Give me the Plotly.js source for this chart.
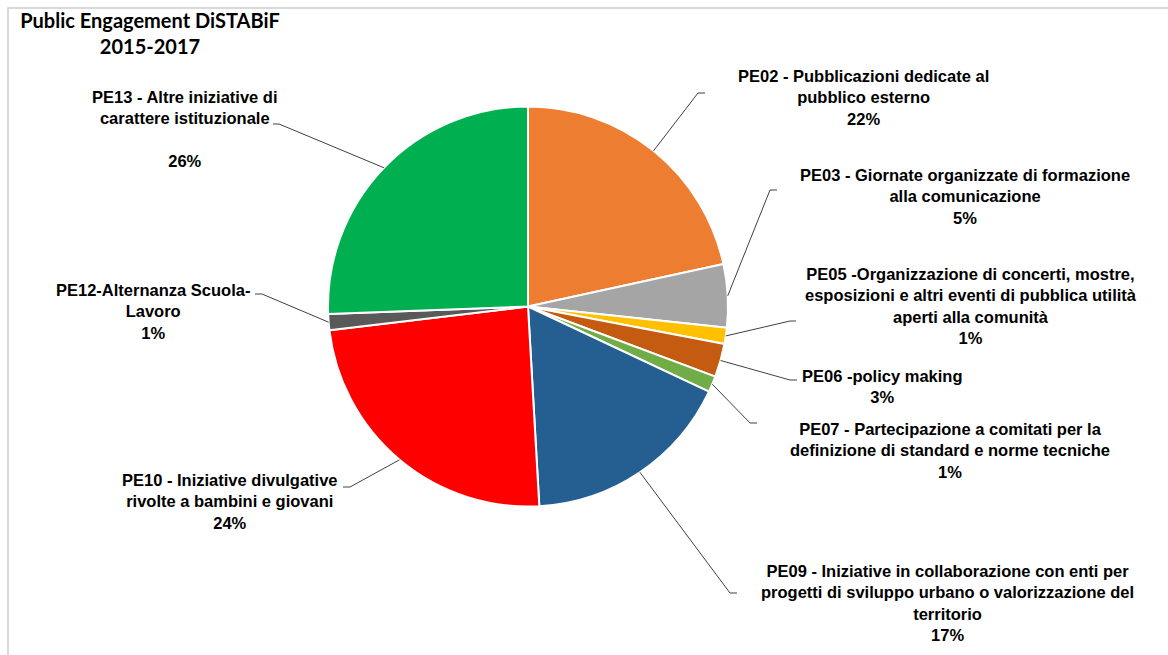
<!DOCTYPE html>
<html><head><meta charset="utf-8">
<script src="https://cdn.plot.ly/plotly-3.0.1.min.js"></script>
<style>html,body{margin:0;padding:0;background:#fff}#chart{width:1168px;height:655px}</style>
</head><body><div id="chart"></div>
<script>
// ---- data ----
const categories = ['PE02','PE03','PE05','PE06','PE07','PE09','PE10','PE12','PE13'];
const shares = [21.6, 5.1, 1.3, 2.7, 1.3, 17.1, 24.0, 1.3, 25.6];
const labelTexts = [
  'PE02 - Pubblicazioni dedicate al<br>pubblico esterno',
  'PE03 - Giornate organizzate di formazione<br>alla comunicazione',
  'PE05 -Organizzazione di concerti, mostre,<br>esposizioni e altri eventi di pubblica utilità<br>aperti alla comunità',
  'PE06 -policy making',
  'PE07 - Partecipazione a comitati per la<br>definizione di standard e norme tecniche',
  'PE09 - Iniziative in collaborazione con enti per<br>progetti di sviluppo urbano o valorizzazione del<br>territorio',
  'PE10 - Iniziative divulgative<br>rivolte a bambini e giovani',
  'PE12-Alternanza Scuola-<br>Lavoro',
  'PE13 - Altre iniziative di<br>carattere istituzionale<br>'
];
const colors = ['#ED7D31','#A5A5A5','#FFC000','#C55A11','#70AD47','#255E91','#FF0000','#595959','#00B050'];

// ---- layout helpers ----
const W = 1168, H = 655;
const dom = {x:[328/W, 728/W], y:[1-506.5/H, 1-106.5/H]};
const labelPos = [[863,97],[965,196],[971,306],[882,386],[950,450],[947,603],[230,501],[153,311],[185,129]];
const elbows   = [[698,93],[770,190],[790,321],[790,380],[750,423],[730,593],[350,487],[262,294],[279,124]];
const tickEnds = [[705,93],[777,190],[796,321],[797,380],[757,423],[737,593],[343,487],[255,294],[273,124]];

const px = x => x / W, py = y => 1 - y / H;
const cx = (dom.x[0]+dom.x[1])/2*W, cy = H - (dom.y[0]+dom.y[1])/2*H;
const r = Math.min((dom.x[1]-dom.x[0])*W, (dom.y[1]-dom.y[0])*H)/2;
const total = shares.reduce((a,b)=>a+b,0);

const annotations = [], shapes = [];
let cum = 0;
shares.forEach((v,i) => {
  const th = (cum + v/2)/total * 2*Math.PI; cum += v;
  const ex = cx + r*Math.sin(th), ey = cy - r*Math.cos(th);
  const pct = Math.round(v/total*100) + '%';
  annotations.push({
    xref:'paper', yref:'paper', x:px(labelPos[i][0]), y:py(labelPos[i][1]),
    xanchor:'center', yanchor:'middle', align:'center', showarrow:false,
    text:'<b>' + labelTexts[i] + '<br>' + pct + '</b>',
    font:{family:'Liberation Sans, Arial, sans-serif', size:16.5, color:'#000'}
  });
  shapes.push({
    type:'path', xref:'paper', yref:'paper',
    path:`M${px(ex)},${py(ey)} L${px(elbows[i][0])},${py(elbows[i][1])} L${px(tickEnds[i][0])},${py(tickEnds[i][1])}`,
    line:{color:'#404040', width:1}
  });
});
// chart-area border
shapes.push({type:'rect', xref:'paper', yref:'paper', x0:px(8), x1:1.02, y0:-0.02, y1:py(8),
  line:{color:'#D9D9D9', width:2}, fillcolor:'rgba(0,0,0,0)', layer:'below'});

const trace = {
  type:'pie', labels:categories, values:shares, sort:false, direction:'clockwise', rotation:0,
  marker:{colors:colors, line:{color:'#FFFFFF', width:2}},
  textinfo:'none', hoverinfo:'label+percent', domain:dom
};

const layout = {
  width:W, height:H, margin:{l:0,r:0,t:0,b:0}, showlegend:false,
  paper_bgcolor:'#FFFFFF',
  title:{text:'<b>Public Engagement DiSTABiF<br>2015-2017</b>', x:150/W, xanchor:'center', xref:'paper',
    y:1-28/H, yanchor:'middle', yref:'container',
    font:{family:'Lato, Liberation Sans, sans-serif', size:20, color:'#000'}},
  annotations:annotations, shapes:shapes
};
Plotly.newPlot('chart', [trace], layout, {displayModeBar:false, staticPlot:true});
</script>
</body></html>
